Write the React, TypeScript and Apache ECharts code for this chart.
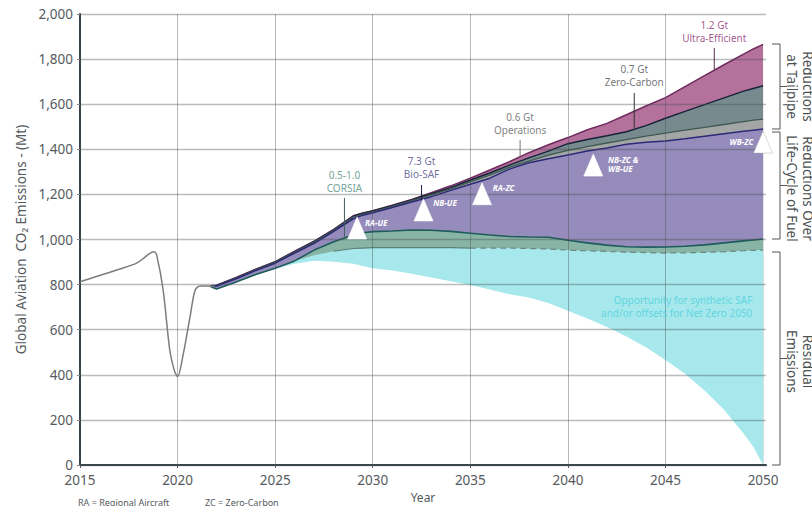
import React, { useEffect, useRef } from "react";
import * as echarts from "echarts";

const FONT = "'Noto Sans', sans-serif";
const TEXT = "#555a5e";
const xTickYears = [2015, 2020, 2025, 2030, 2035, 2040, 2045];
const xLabelYears = [2015, 2020, 2025, 2030, 2035, 2040, 2045, 2050];

const historyYears = [2015, 2016, 2017, 2017.9, 2018.3, 2018.6, 2018.8, 2018.93, 2019.26, 2019.6, 2019.85, 2020, 2020.3, 2020.64, 2020.9, 2021.15, 2021.5, 2021.9];
const historyValues = [813, 840, 868, 895, 920, 940, 946, 931, 776, 510, 415, 392, 496, 658, 776, 794, 794, 792];

const years = [2021.7, 2022, 2023, 2024, 2025, 2026, 2027, 2028, 2029, 2029.5, 2030, 2031, 2032, 2033, 2034, 2035, 2036, 2037, 2038, 2039, 2040, 2041, 2042, 2043, 2044, 2045, 2046, 2047, 2048, 2049, 2049.5, 2050];
const ultraEfficientTop = [795, 797, 832, 868, 902, 948, 993, 1045, 1105, 1118, 1128, 1152, 1178, 1208, 1238, 1272, 1308, 1345, 1385, 1420, 1452, 1487, 1515, 1553, 1592, 1629, 1678, 1727, 1775, 1822, 1845, 1865];
const zeroCarbonTop = [795, 796, 830, 866, 900, 945, 991, 1043, 1103, 1116, 1126, 1150, 1175, 1203, 1230, 1264, 1295, 1330, 1362, 1392, 1425, 1443, 1460, 1478, 1505, 1538, 1568, 1598, 1628, 1658, 1670, 1682];
const operationsTop = [795, 795, 829, 865, 899, 944, 989, 1041, 1100, 1113, 1123, 1147, 1172, 1198, 1224, 1256, 1285, 1320, 1348, 1374, 1395, 1412, 1428, 1443, 1458, 1472, 1485, 1497, 1510, 1523, 1529, 1534];
const bioSafTop = [795, 794, 826, 862, 895, 940, 983, 1036, 1092, 1108, 1118, 1142, 1166, 1190, 1218, 1245, 1272, 1312, 1340, 1358, 1375, 1392, 1406, 1422, 1431, 1437, 1447, 1458, 1469, 1480, 1485, 1490];
const corsiaTop = [790, 780, 812, 845, 873, 905, 953, 990, 1020, 1030, 1035, 1038, 1042, 1041, 1036, 1028, 1020, 1013, 1011, 1010, 997, 985, 975, 968, 966, 967, 970, 976, 985, 994, 998, 1002];
const residualTop = [790, 779, 810, 842, 870, 905, 930, 948, 960, 962, 964, 964, 964, 964, 964, 962, 962, 962, 960, 958, 953, 950, 947, 944, 942, 940, 941, 943, 946, 950, 952, 953];
const synthSafBottom = [790, 779, 810, 842, 870, 893, 906, 901, 892, 882, 873, 862, 848, 832, 815, 798, 778, 757, 743, 718, 684, 650, 612, 570, 522, 466, 405, 330, 245, 140, 81, 0];
const whiteLeadIn = [2021.5, 790];

const pair = (v: number[]) => v.map((y, i) => [years[i], y]);

const layers = [
  { name: "Ultra-Efficient", values: ultraEfficientTop, fill: "#b4719b", line: "#6f2a5d", width: 1.5 },
  { name: "Zero-Carbon", values: zeroCarbonTop, fill: "#778a8e", line: "#17233a", width: 1.5 },
  { name: "Operations", values: operationsTop, fill: "#a4a6a6", line: "#3e5a52", width: 1.3 },
  { name: "Bio-SAF", values: bioSafTop, fill: "#958cbb", line: "#2c2a78", width: 1.5 },
  { name: "CORSIA", values: corsiaTop, fill: "#87b4a5", line: "#1e5c5c", width: 1.6 },
  { name: "Residual", values: residualTop, fill: "#a6e8ec", line: "#a6e8ec", width: 0 },
  { name: "Baseline", values: synthSafBottom, fill: "#ffffff", line: "#ffffff", width: 0 },
];

const triangles = [
  { name: "RA-UE", value: [2029.2, 1051], position: "right", distance: -2, offset: [0, -5] },
  { name: "NB-UE", value: [2032.6, 1131], position: "right", distance: 0, offset: [0, -7] },
  { name: "RA-ZC", value: [2035.6, 1203], position: "right", distance: 1, offset: [0, -6] },
  { name: "NB-ZC &\nWB-UE", value: [2041.3, 1330], position: "right", distance: 5, offset: [0, -1] },
  { name: "WB-ZC", value: [2050, 1432], position: "left", distance: 0, offset: [0, -1] },
];

const callouts = [
  { text: "0.5-1.0\nCORSIA", year: 2028.55, top: 1184, bottom: 1007, color: "#4a8a7c", lead: "#3f5f5f" },
  { text: "7.3 Gt\nBio-SAF", year: 2032.5, top: 1242, bottom: 1175, color: "#4b4a86", lead: "#222244" },
  { text: "0.6 Gt\nOperations", year: 2037.55, top: 1441, bottom: 1370, color: "#5d6062", lead: "#777777" },
  { text: "0.7 Gt\nZero-Carbon", year: 2043.4, top: 1650, bottom: 1495, color: "#4d5154", lead: "#333333" },
  { text: "1.2 Gt\nUltra-Efficient", year: 2047.5, top: 1849, bottom: 1752, color: "#8b2f72", lead: "#55304c" },
];

const opportunity = { text: "Opportunity for synthetic SAF\nand/or offsets for Net Zero 2050", year: 2049.45, value: 703 };

const brackets = [
  { top: 44, bottom: 129, text: "Reductions\nat Tailpipe", shift: 0 },
  { top: 132, bottom: 239, text: "Reductions Over\nLife-Cycle of Fuel", shift: 3 },
  { top: 252, bottom: 465, text: "Residual\nEmissions", shift: 3 },
];

export default function App() {
  const ref = useRef<HTMLDivElement>(null);
  useEffect(() => {
    const chart = echarts.init(ref.current!, undefined, { renderer: "svg" });
    const series: any[] = [];
    layers.forEach((l) =>
      series.push({
        type: "line",
        name: l.name,
        data: l.name === "Baseline" ? [whiteLeadIn, ...pair(l.values)] : pair(l.values),
        showSymbol: false,
        z: 2,
        silent: true,
        lineStyle: { color: l.line, width: l.width },
        areaStyle: { color: l.fill, opacity: 1 },
      })
    );
    const split = years.indexOf(2035);
    const residualPts = pair(residualTop);
    series.push({
      type: "line",
      name: "Residual solid",
      data: residualPts.slice(years.indexOf(2028), split + 1),
      showSymbol: false,
      z: 3,
      lineStyle: { color: "#5f7f7c", width: 1.2 },
    });
    series.push({
      type: "line",
      name: "Residual dashed",
      data: residualPts.slice(split),
      showSymbol: false,
      z: 3,
      lineStyle: { color: "#6f8583", width: 1.2, type: [6, 4] },
    });
    series.push({
      type: "line",
      name: "History",
      data: historyYears.map((y, i) => [y, historyValues[i]]),
      showSymbol: false,
      smooth: 0.3,
      z: 7,
      lineStyle: { color: "#7c7c7c", width: 1.5 },
    });
    callouts.forEach((c) =>
      series.push({
        type: "line",
        name: c.text + " leader",
        data: [[c.year, c.top], [c.year, c.bottom]],
        showSymbol: false,
        z: 7,
        lineStyle: { color: c.lead, width: 1 },
      })
    );
    series.push({
      type: "scatter",
      name: "Callouts",
      symbolSize: 0,
      clip: false,
      z: 8,
      data: callouts.map((c) => ({
        value: [c.year, c.top],
        label: { show: true, formatter: c.text, position: "top", distance: 4, color: c.color, fontSize: 10, lineHeight: 13, fontFamily: FONT },
      })),
    });
    series.push({
      type: "scatter",
      name: "Opportunity",
      symbolSize: 0,
      clip: false,
      z: 8,
      data: [{
        value: [opportunity.year, opportunity.value],
        label: { show: true, formatter: opportunity.text, position: "left", distance: 0, align: "right", color: "#4fd0dc", fontSize: 10, lineHeight: 13, fontFamily: FONT },
      }],
    });
    series.push({
      type: "scatter",
      name: "Aircraft",
      symbol: "triangle",
      symbolSize: [19, 22],
      clip: false,
      z: 9,
      data: triangles.map((t) => ({
        value: t.value,
        itemStyle: { color: "#ffffff", opacity: 1, borderColor: t.name === "WB-ZC" ? "rgba(170,170,175,0.7)" : "#ffffff", borderWidth: 0.6 },
        label: {
          show: true,
          formatter: t.name,
          position: t.position,
          distance: t.distance,
          offset: t.offset,
          color: "#ffffff",
          fontSize: 8,
          lineHeight: 9,
          fontStyle: "italic",
          fontWeight: "bold",
          fontFamily: FONT,
        },
      })),
    });

    const graphic: any[] = [];
    brackets.forEach((b) => {
      const mid = (b.top + b.bottom) / 2;
      graphic.push({
        type: "polyline",
        shape: { points: [[772, b.top], [780, b.top], [780, b.bottom], [772, b.bottom]] },
        style: { stroke: "#555555", lineWidth: 1, fill: "none" },
      });
      graphic.push({ type: "line", shape: { x1: 780, y1: mid, x2: 787, y2: mid }, style: { stroke: "#555555", lineWidth: 1 } });
      graphic.push({
        type: "text",
        x: 800,
        y: mid + b.shift,
        rotation: -Math.PI / 2,
        style: { text: b.text, align: "center", verticalAlign: "middle", fontSize: 13.5, lineHeight: 16, fontFamily: FONT, fill: "#4a4f52" },
      });
    });
    graphic.push({ type: "text", x: 78, y: 498, z: 1, style: { text: "RA = Regional Aircraft", fontSize: 9, fontFamily: FONT, fill: "#555a5e" } });
    graphic.push({ type: "text", x: 205, y: 498, z: 1, style: { text: "ZC = Zero-Carbon", fontSize: 9, fontFamily: FONT, fill: "#555a5e" } });
    graphic.push({ type: "rect", z: 2, shape: { x: 0, y: 506, width: 812, height: 6 }, style: { fill: "#ffffff" } });

    chart.setOption({
      animation: false,
      tooltip: { show: false },
      legend: { show: false },
      grid: { left: 80, right: 46, top: 14, bottom: 47, containLabel: false },
      xAxis: {
        type: "value",
        min: 2015,
        max: 2050.15,
        z: 4,
        name: "Year",
        nameLocation: "middle",
        nameGap: 21,
        nameTextStyle: { color: TEXT, fontSize: 12, fontFamily: FONT },
        axisLine: { show: true, lineStyle: { color: "#38454a", width: 2 } },
        axisTick: { show: true, length: 3, customValues: xTickYears, lineStyle: { color: "#555555" } },
        axisLabel: { customValues: xLabelYears, formatter: (v: number) => String(v), color: TEXT, fontSize: 13.5, margin: 8, fontFamily: FONT },
        splitLine: { show: true, lineStyle: { color: "rgba(70,75,80,0.4)", width: 1 } },
      },
      yAxis: {
        type: "value",
        min: 0,
        max: 2000,
        interval: 200,
        z: 4,
        name: "Global Aviation  CO₂ Emissions - (Mt)",
        nameLocation: "middle",
        nameGap: 52,
        nameTextStyle: { color: TEXT, fontSize: 13.5, fontFamily: FONT },
        axisLine: { show: true, lineStyle: { color: "#38454a", width: 2 } },
        axisTick: { show: true, length: 3, lineStyle: { color: "#888888" } },
        axisLabel: { color: TEXT, fontSize: 13.5, margin: 7, fontFamily: FONT },
        splitLine: { show: true, lineStyle: { color: "rgba(70,75,80,0.38)", width: 1.4 } },
      },
      series,
      graphic,
    });
    return () => chart.dispose();
  }, []);
  return <div ref={ref} style={{ position: "absolute", left: 0, top: 0, width: 812, height: 512, overflow: "hidden", background: "#fff" }} />;
}
